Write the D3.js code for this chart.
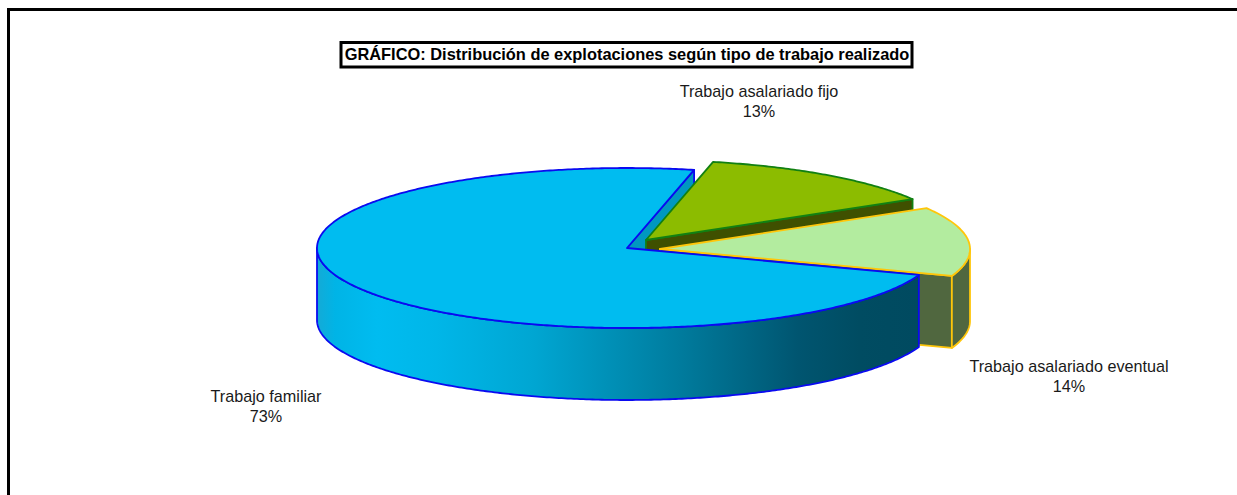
<!DOCTYPE html>
<html><head><meta charset="utf-8">
<script src="https://cdn.jsdelivr.net/npm/d3@7/dist/d3.min.js"></script>
<style>html,body{margin:0;padding:0;background:#fff}svg{display:block}text{font-family:"Liberation Sans",Arial,sans-serif;fill:#1a1a1a}</style>
</head><body><svg id="c" width="1237" height="495"></svg>
<script>
(function(){
const titleText = "GRÁFICO: Distribución de explotaciones según tipo de trabajo realizado";
const categories = ["Trabajo asalariado fijo","Trabajo asalariado eventual","Trabajo familiar"];
const shares = [13,14,73];
const tops = ["#8cbc00","#b3ec9f","#00bcf0"];
const strokes = ["#128012","#ffc60a","#0a0af0"];
const cuts = ["#3f5000","#50673f","#0098c0"];
const offsets = [[19,-8],[33,1],[0,0]];
const labelAnchors = [[759,92],[1069,367],[266,397]];

const svg = d3.select("#c");
const W=1237,H=495;
const cx=627,cy=248,rx=310,ry=80,depth=72;
const sx=d3.scaleLinear().domain([-1,1]).range([cx-rx,cx+rx]);
const sy=d3.scaleLinear().domain([-1,1]).range([cy-ry,cy+ry]);
const arcs=d3.pie().sort(null).value(d=>d).startAngle(12.5*Math.PI/180).endAngle(372.5*Math.PI/180)(shares);
const line=d3.line();
const P=(a,o,dz=0)=>[sx(Math.sin(a))+o[0],sy(-Math.cos(a))+o[1]+dz];
const C=(o,dz=0)=>[cx+o[0],cy+o[1]+dz];
const rim=(a0,a1,o,dz=0)=>{const n=Math.max(2,Math.ceil(Math.abs(a1-a0)/0.01));return d3.range(n+1).map(i=>P(a0+(a1-a0)*i/n,o,dz));};
const closed=p=>line(p)+"Z";

svg.append("path").attr("d",`M8.5,${H}V9.5H${W}`).attr("fill","none").attr("stroke","#000").attr("stroke-width",3);

const defs=svg.append("defs");
const g=defs.append("linearGradient").attr("id","wall").attr("gradientUnits","userSpaceOnUse")
 .attr("x1",cx-rx).attr("x2",cx+rx-18).attr("y1",0).attr("y2",0);
[[0,"#14aad6"],[0.03,"#00b4e6"],[0.1,"#00bcf0"],[0.2,"#00b6e8"],[0.36,"#00a6d2"],[0.6,"#007c9e"],[0.8,"#005570"],[0.9,"#004c62"],[1,"#004a60"]]
 .forEach(s=>g.append("stop").attr("offset",s[0]).attr("stop-color",s[1]));

const sw=1.8;
function cutFace(a,o,fill,stroke){
 svg.append("path").attr("d",closed([C(o),P(a,o),P(a,o,depth),C(o,depth)])).attr("fill",fill).attr("stroke",stroke).attr("stroke-width",sw).attr("stroke-linejoin","round");
}
function wall(a0,a1,o,fill,stroke){
 const lo=Math.max(a0,Math.PI/2), hi=Math.min(a1,Math.PI*1.5);
 if(hi<=lo) return;
 svg.append("path").attr("d",closed(rim(lo,hi,o).concat(rim(hi,lo,o,depth)))).attr("fill",fill).attr("stroke",stroke).attr("stroke-width",sw).attr("stroke-linejoin","round");
}
function topFace(a0,a1,o,fill,stroke){
 svg.append("path").attr("d",closed([C(o)].concat(rim(a0,a1,o)))).attr("fill",fill).attr("stroke",stroke).attr("stroke-width",sw).attr("stroke-linejoin","round");
}
const [fijo,even,fam]=arcs;
cutFace(fam.endAngle,offsets[2],cuts[2],strokes[2]);
cutFace(fijo.endAngle,offsets[0],cuts[0],strokes[0]);
topFace(fijo.startAngle,fijo.endAngle,offsets[0],tops[0],strokes[0]);
cutFace(even.endAngle,offsets[1],cuts[1],strokes[1]);
wall(even.startAngle,even.endAngle,offsets[1],cuts[1],strokes[1]);
topFace(even.startAngle,even.endAngle,offsets[1],tops[1],strokes[1]);
wall(fam.startAngle,fam.endAngle,offsets[2],"url(#wall)",strokes[2]);
topFace(fam.startAngle,fam.endAngle,offsets[2],tops[2],strokes[2]);

categories.forEach((c,i)=>{
 const t=svg.append("text").attr("text-anchor","middle").attr("font-size",16.2)
   .attr("x",labelAnchors[i][0]).attr("y",labelAnchors[i][1]+5);
 t.append("tspan").attr("x",labelAnchors[i][0]).text(c);
 t.append("tspan").attr("x",labelAnchors[i][0]).attr("dy",20).text(shares[i]+"%");
});
svg.append("rect").attr("x",341).attr("y",42.5).attr("width",571).attr("height",24.5).attr("fill","#fff").attr("stroke","#000").attr("stroke-width",3);
svg.append("text").attr("x",627).attr("y",60).attr("text-anchor","middle").attr("font-size",16.4).attr("font-weight","bold").style("fill","#000").text(titleText);
})();
</script></body></html>
